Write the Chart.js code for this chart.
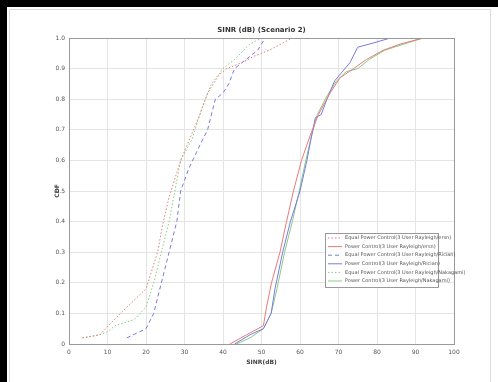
<!DOCTYPE html>
<html>
<head>
<meta charset="utf-8">
<script src="https://cdn.jsdelivr.net/npm/chart.js@4.4.1/dist/chart.umd.min.js"></script>
<style>
  html, body { margin: 0; padding: 0; background: #000; width: 498px; height: 382px; overflow: hidden; }
  #frame { position: absolute; left: 7px; top: 7px; width: 491px; height: 375px; background: #fff; }
  #inner { position: absolute; left: 2px; top: 2px; width: 480px; height: 380px; border: 1px solid #dcdcdc; border-bottom: none; }
  #wrap { position: absolute; left: 0; top: 0; width: 498px; height: 382px; }
</style>
</head>
<body>
<div id="frame"><div id="inner"></div></div>
<div id="wrap"><canvas id="cdf" width="498" height="382"></canvas></div>
<script>
// SINR values (dB) and CDF values
const eqRayX = [3.5, 8, 11, 15, 20, 21, 23, 24.5, 26, 29, 31, 34, 36, 39, 41, 45, 48, 52, 58];
const eqRayY = [0.02, 0.03, 0.07, 0.12, 0.18, 0.22, 0.3, 0.4, 0.48, 0.6, 0.66, 0.75, 0.82, 0.88, 0.9, 0.92, 0.94, 0.96, 1.0];
const pcRayX = [41.8, 46.1, 50.5, 51.3, 52.6, 54.8, 56.5, 58.3, 60.4, 62.6, 64.8, 67.8, 70.4, 73.9, 77.3, 81.6, 86, 92];
const pcRayY = [0, 0.03, 0.06, 0.12, 0.2, 0.3, 0.4, 0.5, 0.6, 0.68, 0.75, 0.82, 0.87, 0.9, 0.93, 0.96, 0.98, 1.0];
const eqRicX = [15, 20, 22, 24, 26, 28, 29, 31, 34, 36, 38, 40, 41.5, 43, 46, 49, 51];
const eqRicY = [0.02, 0.05, 0.1, 0.2, 0.3, 0.4, 0.5, 0.57, 0.65, 0.7, 0.8, 0.82, 0.85, 0.9, 0.93, 0.96, 1.0];
const pcRicX = [43, 47, 50.5, 52.5, 53.5, 55.5, 57.5, 60, 61.8, 63, 64, 65.5, 67, 69, 71, 73, 75, 78, 83.5];
const pcRicY = [0, 0.03, 0.05, 0.1, 0.18, 0.3, 0.4, 0.5, 0.6, 0.68, 0.74, 0.75, 0.8, 0.86, 0.89, 0.92, 0.97, 0.98, 1.0];
const eqNakX = [3.5, 8, 10, 12, 17, 20, 22, 24, 26, 27.5, 29, 32, 34.5, 37, 40, 43, 47, 50];
const eqNakY = [0.02, 0.03, 0.04, 0.06, 0.08, 0.12, 0.2, 0.3, 0.4, 0.5, 0.6, 0.67, 0.77, 0.85, 0.9, 0.93, 0.98, 1.0];
const pcNakX = [43.5, 47, 50.5, 52.5, 54, 56, 58, 59.8, 61.5, 63, 64.5, 67, 69.5, 72, 75, 78, 82, 87, 92];
const pcNakY = [0, 0.02, 0.05, 0.1, 0.18, 0.3, 0.4, 0.5, 0.6, 0.68, 0.75, 0.81, 0.86, 0.89, 0.9, 0.93, 0.96, 0.98, 1.0];

const seriesLabels = [
  "Equal Power Control(3 User Rayleigh/ersn)",
  "Power Control(3 User Rayleigh/ersn)",
  "Equal Power Control(3 User Rayleigh/Rician)",
  "Power Control(3 User Rayleigh/Rician)",
  "Equal Power Control(3 User Rayleigh/Nakagami)",
  "Power Control(3 User Rayleigh/Nakagami)"
];
const xTicks = [0, 10, 20, 30, 40, 50, 60, 70, 80, 90, 100];
const yTicks = [0, 0.1, 0.2, 0.3, 0.4, 0.5, 0.6, 0.7, 0.8, 0.9, 1];

const red = "#e87a7a", blue = "#7a7ae0", green = "#86cc86";

function pts(xs, ys) {
  return xs.map((x, i) => ({ x: x, y: ys[i] }));
}

const datasets = [
  { label: seriesLabels[0], data: pts(eqRayX, eqRayY), borderColor: red, borderDash: [1.5, 2] },
  { label: seriesLabels[1], data: pts(pcRayX, pcRayY), borderColor: red },
  { label: seriesLabels[2], data: pts(eqRicX, eqRicY), borderColor: blue, borderDash: [4, 3] },
  { label: seriesLabels[3], data: pts(pcRicX, pcRicY), borderColor: blue },
  { label: seriesLabels[4], data: pts(eqNakX, eqNakY), borderColor: green, borderDash: [1.5, 2] },
  { label: seriesLabels[5], data: pts(pcNakX, pcNakY), borderColor: green }
].map(d => Object.assign(d, { borderWidth: 1, pointRadius: 0, tension: 0, fill: false }));

// box round the axes, titles and legend inside the plot
const extras = {
  id: "extras",
  afterDraw(chart) {
    const c = chart.ctx, a = chart.chartArea;
    c.save();
    c.strokeStyle = "#999";
    c.lineWidth = 1;
    c.strokeRect(a.left + 0.5, a.top + 0.5, a.right - a.left, a.bottom - a.top);

    c.fillStyle = "#333";
    c.font = "bold 7px 'DejaVu Sans'";
    c.textAlign = "center";
    c.textBaseline = "bottom";
    c.fillText("SINR (dB) (Scenario 2)", (a.left + a.right) / 2, a.top - 4);

    c.fillStyle = "#444";
    c.font = "bold 6px 'DejaVu Sans'";
    c.textBaseline = "middle";
    c.fillText("SINR(dB)", (a.left + a.right) / 2, 362);
    c.save();
    c.translate(57, (a.top + a.bottom) / 2);
    c.rotate(-Math.PI / 2);
    c.fillText("CDF", 0, 0);
    c.restore();

    const lx = 325, ly = 233, lw = 113, lh = 54, row = 8.6;
    c.fillStyle = "#fff";
    c.fillRect(lx, ly, lw, lh);
    c.strokeStyle = "#999";
    c.strokeRect(lx + 0.5, ly + 0.5, lw, lh);
    c.font = "5px 'DejaVu Sans'";
    c.textAlign = "left";
    c.textBaseline = "middle";
    chart.data.datasets.forEach((d, i) => {
      const yy = ly + 5 + i * row;
      c.strokeStyle = d.borderColor;
      c.setLineDash(d.borderDash || []);
      c.beginPath();
      c.moveTo(lx + 3, yy);
      c.lineTo(lx + 17, yy);
      c.stroke();
      c.setLineDash([]);
      c.fillStyle = "#555";
      c.fillText(d.label, lx + 20, yy);
    });
    c.restore();
  }
};

new Chart(document.getElementById("cdf").getContext("2d"), {
  type: "line",
  data: { datasets },
  options: {
    responsive: false,
    animation: false,
    layout: { padding: { top: 38, right: 44, left: 0, bottom: 0 } },
    plugins: { legend: { display: false }, tooltip: { enabled: false } },
    scales: {
      x: {
        type: "linear",
        min: 0,
        max: 100,
        afterBuildTicks: s => { s.ticks = xTicks.map(v => ({ value: v })); },
        afterFit: s => { s.height = 38; },
        grid: { color: "#e4e4e4", borderDash: [1, 2], drawTicks: false },
        border: { display: false },
        ticks: { color: "#555", font: { size: 6, family: "DejaVu Sans" }, padding: 5, maxRotation: 0 }
      },
      y: {
        type: "linear",
        min: 0,
        max: 1,
        afterBuildTicks: s => { s.ticks = yTicks.map(v => ({ value: v })); },
        afterFit: s => { s.width = 69; },
        grid: { color: "#e4e4e4", borderDash: [1, 2], drawTicks: false },
        border: { display: false },
        ticks: { color: "#555", font: { size: 6, family: "DejaVu Sans" }, padding: 4 }
      }
    }
  },
  plugins: [extras]
});
</script>
</body>
</html>
